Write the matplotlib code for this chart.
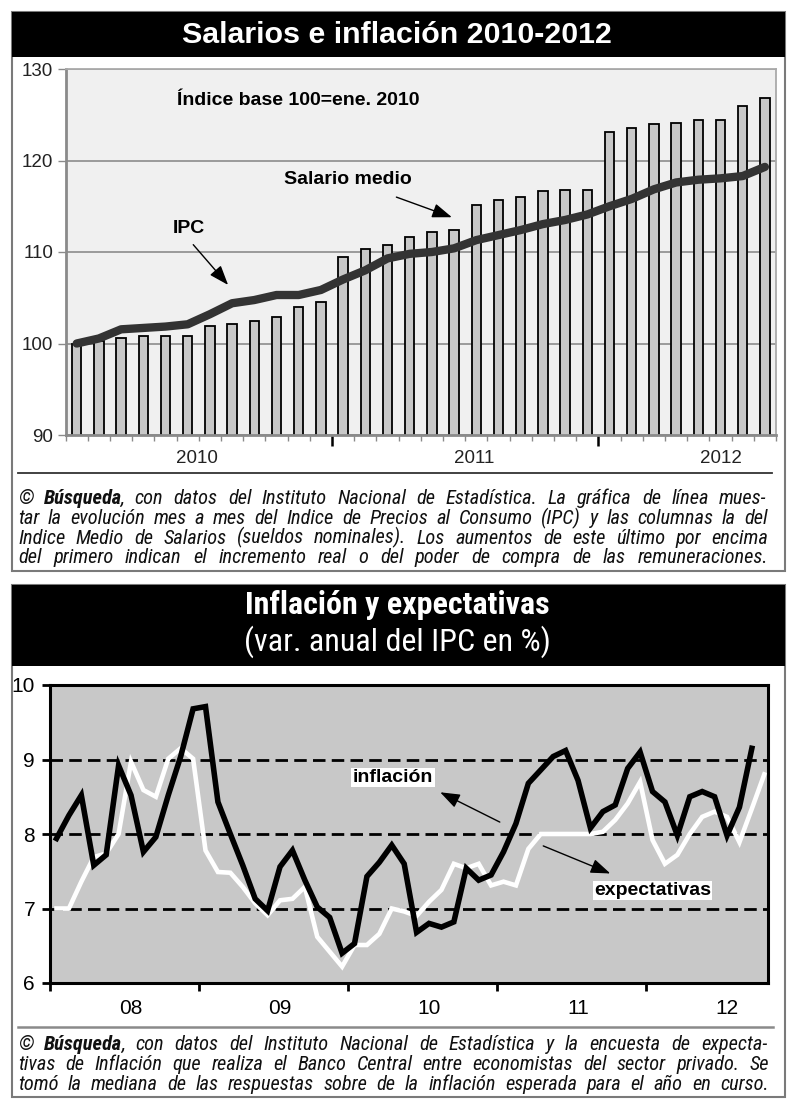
import matplotlib
matplotlib.use("Agg")
import matplotlib.pyplot as plt
import numpy as np
from matplotlib import font_manager as fm
from matplotlib.patches import Rectangle
from matplotlib.lines import Line2D
import matplotlib.transforms as mtransforms

# ---------------- DATA ----------------
# Top chart: monthly index, base 100 = Jan 2010 (Jan 2010 .. Aug 2012)
meses_top = [f"{m}-{a}" for a in (2010, 2011, 2012)
             for m in ("ene", "feb", "mar", "abr", "may", "jun",
                       "jul", "ago", "set", "oct", "nov", "dic")][:32]
salario_medio = [100.0, 100.3, 100.6, 100.8, 100.8, 100.8, 101.9, 102.1,
                 102.5, 102.9, 104.0, 104.5, 109.5, 110.3, 110.8, 111.6,
                 112.15, 112.4, 115.1, 115.7, 116.0, 116.7, 116.8, 116.8,
                 123.1, 123.5, 124.0, 124.1, 124.4, 124.4, 126.0, 126.8]
ipc = [100.0, 100.55, 101.55, 101.7, 101.85, 102.1, 103.2, 104.4,
       104.75, 105.3, 105.3, 105.85, 107.0, 108.0, 109.3, 109.8,
       110.0, 110.4, 111.3, 111.85, 112.4, 113.05, 113.5, 114.1,
       115.0, 115.8, 116.85, 117.6, 117.9, 118.05, 118.3, 119.3]
anios_top = ["2010", "2011", "2012"]

# Bottom chart: annual CPI variation (%), Jan 2008 .. Sep 2012 / Oct 2012
inflacion = [7.94, 8.25, 8.52, 7.58, 7.72, 8.92, 8.52, 7.76, 7.96, 8.52,
             9.04, 9.68, 9.71, 8.43, 8.00, 7.58, 7.13, 6.97, 7.56, 7.78,
             7.38, 7.02, 6.88, 6.40, 6.53, 7.43, 7.62, 7.85, 7.60, 6.68,
             6.80, 6.75, 6.82, 7.54, 7.38, 7.45, 7.76, 8.14, 8.68, 8.86,
             9.04, 9.12, 8.72, 8.08, 8.30, 8.39, 8.88, 9.10, 8.57, 8.43,
             7.98, 8.50, 8.57, 8.50, 7.98, 8.36, 9.15]
expectativas = [7.00, 7.00, 7.36, 7.69, 7.74, 8.00, 8.97, 8.59, 8.50, 9.01,
                9.15, 9.01, 7.78, 7.49, 7.48, 7.29, 7.07, 6.91, 7.11, 7.13,
                7.29, 6.62, 6.42, 6.22, 6.51, 6.51, 6.66, 7.00, 6.96, 6.90,
                7.09, 7.25, 7.60, 7.54, 7.60, 7.31, 7.36, 7.31, 7.80, 8.00,
                8.00, 8.00, 8.00, 8.00, 8.03, 8.19, 8.41, 8.70, 7.92, 7.60,
                7.72, 8.00, 8.23, 8.30, 8.23, 7.89, 8.34, 8.80]
anios_bottom = ["08", "09", "10", "11", "12"]

titulo_top = "Salarios e inflación 2010-2012"
titulo_bottom = "Inflación y expectativas"
subtitulo_bottom = "(var. anual del IPC en %)"

nota_top = [
    "© **Búsqueda**, con datos del Instituto Nacional de Estadística. La gráfica de línea mues-",
    "tar la evolución mes a mes del Indice de Precios al Consumo (IPC) y las columnas la del",
    "Indice Medio de Salarios (sueldos nominales). Los aumentos de este último por encima",
    "del primero indican el incremento real o del poder de compra de las remuneraciones.",
]
nota_bottom = [
    "© **Búsqueda**, con datos del Instituto Nacional de Estadística y la encuesta de expecta-",
    "tivas de Inflación que realiza el Banco Central entre economistas del sector privado. Se",
    "tomó la mediana de las respuestas sobre de la inflación esperada para el año en curso.",
]

# ---------------- FONTS ----------------
def has_font(name):
    try:
        fm.findfont(fm.FontProperties(family=name), fallback_to_default=False)
        return True
    except Exception:
        return False

REG = "Liberation Sans" if has_font("Liberation Sans") else "DejaVu Sans"
NARROW = next((f for f in ["Liberation Sans Narrow", "Roboto Condensed",
                           "Open Sans Condensed"] if has_font(f)), REG)
plt.rcParams["font.family"] = [REG, "DejaVu Sans"]
plt.rcParams["lines.scale_dashes"] = False

W, H = 790, 1103
fig = plt.figure(figsize=(W / 100, H / 100), dpi=100)
fig.patch.set_facecolor("white")
R = fig.canvas.get_renderer()


def fx(x):
    return x / W


def fy(y):
    return 1 - y / H


def rect(x0, y0, x1, y1, **kw):
    r = Rectangle((fx(x0), fy(y1)), (x1 - x0) / W, (y1 - y0) / H,
                  transform=fig.transFigure, **kw)
    fig.add_artist(r)
    return r


def fit_size(s, target_w, max_fs, **kw):
    t = fig.text(0, 0, s, fontsize=10, **kw)
    w = t.get_window_extent(R).width
    t.remove()
    return min(max_fs, 10 * target_w / w)


# ---------------- PANEL FRAMES ----------------
rect(12, 12, 785, 571, fill=False, edgecolor="#7a7a7a", lw=1.5, zorder=1)
rect(12, 12, 785, 57, facecolor="black", edgecolor="none", zorder=2)
rect(12, 585, 785, 1097, fill=False, edgecolor="#7a7a7a", lw=1.5, zorder=1)
rect(12, 585, 785, 666, facecolor="black", edgecolor="none", zorder=2)

fs = fit_size(titulo_top, 430, 22, family=REG, weight="bold")
fig.text(fx(397), fy(35), titulo_top, color="white", fontsize=fs,
         weight="bold", family=REG, ha="center", va="center", zorder=3)
fs = fit_size(titulo_bottom, 340, 23, family=NARROW, weight="bold")
fig.text(fx(397), fy(605), titulo_bottom, color="white", fontsize=fs,
         weight="bold", family=NARROW, ha="center", va="center", zorder=3)
fs = fit_size(subtitulo_bottom, 331, 23, family=NARROW)
fig.text(fx(397), fy(642), subtitulo_bottom, color="white", fontsize=fs,
         family=NARROW, ha="center", va="center", zorder=3)

fig.add_artist(Line2D([fx(18), fx(772)], [fy(473), fy(473)],
                      transform=fig.transFigure, color="#333333", lw=1.3))
fig.add_artist(Line2D([fx(18), fx(773)], [fy(1027), fy(1027)],
                      transform=fig.transFigure, color="#8a8a8a", lw=1.8))

# ---------------- TOP CHART ----------------
ax1 = fig.add_axes([fx(65.6), fy(435), (776 - 65.6) / W, (435 - 69) / H])
ax1.set_facecolor("#f0f0f0")
x_top = np.arange(len(meses_top))
ax1.bar(x_top, salario_medio, width=0.42, color="#c8c8c8",
        edgecolor="black", lw=1.3, zorder=2)
ax1.plot(x_top, ipc, color="#333333", lw=6, solid_capstyle="round",
         solid_joinstyle="round", zorder=3)
ax1.set_xlim(-0.5, len(meses_top) - 0.5)
ax1.set_ylim(90, 130)
ax1.set_yticks([90, 100, 110, 120, 130])
ax1.yaxis.grid(True, color="#9a9a9a", lw=1.4, zorder=0)
ax1.set_axisbelow(True)
ax1.tick_params(axis="y", length=6, width=1, color="#8a8a8a",
                labelsize=13.5, labelcolor="#222222", pad=3)
year_bounds = [i - 0.5 for i in range(len(meses_top)) if i % 12 == 0 and i > 0]
ax1.set_xticks(year_bounds)
ax1.set_xticklabels([])
ax1.set_xticks([i - 0.5 for i in range(len(meses_top) + 1)
                if not (i % 12 == 0 and 0 < i < len(meses_top))], minor=True)
ax1.tick_params(axis="x", which="major", length=8, width=1.8, color="black")
ax1.tick_params(axis="x", which="minor", length=4.5, width=1, color="#8a8a8a")
for s in ("left", "bottom"):
    ax1.spines[s].set_color("#8a8a8a")
    ax1.spines[s].set_linewidth(2)
for s in ("top", "right"):
    ax1.spines[s].set_color("#aaaaaa")
    ax1.spines[s].set_linewidth(1.3)
trans1 = mtransforms.blended_transform_factory(ax1.transData, ax1.transAxes)
for lab, xp in zip(anios_top, [5.4, 17.9, 29.0]):
    ax1.text(xp, -0.063, lab, transform=trans1, ha="center", va="center",
             fontsize=13.5, color="#222222")

ax1.text(9.97, 126.6, "Índice base 100=ene. 2010", fontsize=14,
         weight="bold", ha="center", va="center", zorder=5)
arrow_kw = dict(arrowstyle="-|>,head_length=0.6,head_width=0.22",
                color="black", lw=1, mutation_scale=20, shrinkA=0, shrinkB=0)
ax1.text(12.2, 117.9, "Salario medio", fontsize=14, weight="bold",
         ha="center", va="center", zorder=5)
ax1.annotate("", xy=(16.9, 113.8), xytext=(14.4, 116.0), arrowprops=arrow_kw,
             zorder=5)
ax1.text(5.06, 112.6, "IPC", fontsize=14, weight="bold",
         ha="center", va="center", zorder=5)
ax1.annotate("", xy=(6.82, 106.4), xytext=(5.25, 110.8), arrowprops=arrow_kw,
             zorder=5)

# ---------------- BOTTOM CHART ----------------
ax2 = fig.add_axes([fx(50.3), fy(983), (768 - 50.3) / W, (983 - 685) / H])
ax2.set_facecolor("#c8c8c8")
x_inf = np.arange(len(inflacion)) + 0.5
x_exp = np.arange(len(expectativas)) + 0.5
for yv in (7, 8, 9):
    ax2.axhline(yv, color="black", lw=2, dashes=(9, 4.5), zorder=1)
ax2.plot(x_exp, expectativas, color="white", lw=3.3, solid_joinstyle="miter",
         zorder=2)
ax2.plot(x_inf, inflacion, color="black", lw=4, solid_joinstyle="miter",
         zorder=3)
ax2.set_xlim(0, 57.8)
ax2.set_ylim(6, 10)
ax2.set_yticks([6, 7, 8, 9, 10])
ax2.set_xticks([0, 12, 24, 36, 48])
ax2.set_xticklabels([])
ax2.tick_params(axis="both", length=6, width=2, color="black",
                labelsize=15, labelcolor="black")
ax2.tick_params(axis="y", pad=5)
for s in ax2.spines.values():
    s.set_color("black")
    s.set_linewidth(2.2)
trans2 = mtransforms.blended_transform_factory(ax2.transData, ax2.transAxes)
for k, lab in enumerate(anios_bottom):
    ax2.text(6.5 + 12 * k, -0.084, lab, transform=trans2, ha="center",
             va="center", fontsize=15)

box = dict(facecolor="white", edgecolor="none", pad=1.0)
ax2.text(27.6, 8.76, "inflación", fontsize=14, weight="bold", ha="center",
         va="center", bbox=box, zorder=5)
ax2.annotate("", xy=(31.4, 8.56), xytext=(36.2, 8.16), arrowprops=arrow_kw,
             zorder=5)
ax2.text(48.5, 7.24, "expectativas", fontsize=14, weight="bold",
         ha="center", va="center", bbox=box, zorder=5)
ax2.annotate("", xy=(45.1, 7.47), xytext=(39.7, 7.84), arrowprops=arrow_kw,
             zorder=5)


# ---------------- CAPTIONS (justified word by word) ----------------
def parse_line(line):
    words = []
    for w in line.split(" "):
        if w.startswith("**"):
            end = w.index("**", 2)
            segs = [(w[2:end], True)]
            if w[end + 2:]:
                segs.append((w[end + 2:], False))
        else:
            segs = [(w, False)]
        words.append(segs)
    return words


def seg_width(s, bold, fs):
    t = fig.text(0, 0, s, fontsize=fs, family=NARROW, style="italic",
                 weight="bold" if bold else "normal")
    w = t.get_window_extent(R).width
    t.remove()
    return w


def line_width(line, fs):
    plain = line.replace("**", "")
    t = fig.text(0, 0, plain, fontsize=fs, family=NARROW, style="italic")
    w = t.get_window_extent(R).width
    t.remove()
    return w


def caption(lines, baselines, x0, x1, max_fs=14.7):
    parsed = [parse_line(l) for l in lines]
    nat = [line_width(l, 10) for l in lines]
    fs = min(max_fs, 10 * (x1 - x0) / max(nat) * 0.99)
    for words, yb in zip(parsed, baselines):
        widths = [[seg_width(s, b, fs) for s, b in wd] for wd in words]
        total = sum(sum(ws) for ws in widths)
        gap = (x1 - x0 - total) / (len(words) - 1)
        x = x0
        for wd, ws in zip(words, widths):
            for j, ((s, b), w) in enumerate(zip(wd, ws)):
                fig.text(fx(x), fy(yb), s, fontsize=fs, family=NARROW,
                         style="italic", weight="bold" if b else "normal",
                         ha="left", va="baseline", color="#111111")
                x += w - (1.5 if (b and j < len(wd) - 1) else 0)
            x += gap


caption(nota_top, [504, 524, 543.5, 563], 18, 768)
caption(nota_bottom, [1050, 1070, 1089.5], 18, 769)

fig.savefig("out.png", dpi=100, facecolor="white")
